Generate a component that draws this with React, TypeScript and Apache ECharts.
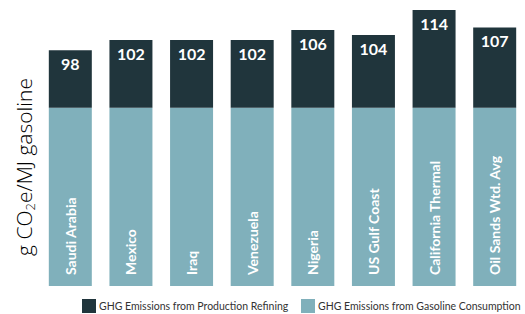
import React, { useEffect, useRef } from "react";
import * as echarts from "echarts";

const categories = [
  "Saudi Arabia",
  "Mexico",
  "Iraq",
  "Venezuela",
  "Nigeria",
  "US Gulf Coast",
  "California Thermal",
  "Oil Sands Wtd. Avg",
];
const totals = [98, 102, 102, 102, 106, 104, 114, 107];
const consumption = [75, 75, 75, 75, 75, 75, 75, 75];
const production = [23, 27, 27, 27, 31, 29, 39, 32];

const seriesNames = [
  "GHG Emissions from Production Refining",
  "GHG Emissions from Gasoline Consumption",
];

const DARK = "#20353c";
const LIGHT = "#80b0bb";
const FONT = "Lato, 'Open Sans', sans-serif";

const legendBase = {
  top: 299,
  padding: 0,
  itemWidth: 14,
  itemHeight: 14,
  icon: "rect",
  textStyle: { fontSize: 10.5, color: "#333", fontFamily: FONT, padding: [0, 0, 0, -2] },
};

export default function App() {
  const ref = useRef<HTMLDivElement>(null);
  useEffect(() => {
    if (!ref.current) return;
    const chart = echarts.init(ref.current, null, { renderer: "svg" });
    chart.setOption({
      animation: false,
      grid: { left: 40, top: 10, width: 488, height: 276 },
      xAxis: {
        type: "category",
        data: categories,
        axisLine: { show: false },
        axisTick: { show: false },
        axisLabel: { show: false },
      },
      yAxis: {
        type: "value",
        min: 4,
        max: 114,
        show: false,
        splitLine: { show: false },
      },
      legend: [
        { ...legendBase, data: [seriesNames[0]], left: 82 },
        { ...legendBase, data: [seriesNames[1]], left: 301 },
      ],
      graphic: [
        {
          type: "text",
          x: 24,
          y: 167,
          rotation: Math.PI / 2,
          style: {
            text: "{a|g CO}{s|2}{a|e/MJ gasoline}",
            align: "center",
            verticalAlign: "middle",
            rich: {
              a: { fontSize: 21, fontFamily: "'Open Sans', sans-serif", fontWeight: 300, color: "#555", lineHeight: 26 },
              s: { fontSize: 13, fontFamily: "'Open Sans', sans-serif", fontWeight: 300, color: "#555", padding: [12, 0, 0, 0], lineHeight: 26 },
            },
          },
        },
      ],
      series: [
        {
          name: seriesNames[1],
          type: "bar",
          stack: "total",
          barWidth: 43,
          data: consumption,
          itemStyle: { color: LIGHT },
          label: {
            show: true,
            position: "insideBottom",
            rotate: 90,
            align: "left",
            verticalAlign: "middle",
            distance: 11,
            formatter: "{b}",
            color: "#fff",
            fontSize: 14,
            fontWeight: "bold",
            fontFamily: FONT,
          },
        },
        {
          name: seriesNames[0],
          type: "bar",
          stack: "total",
          barWidth: 43,
          data: production,
          itemStyle: { color: DARK },
          label: {
            show: true,
            position: "insideTop",
            distance: 5,
            formatter: (p: any) => String(totals[p.dataIndex]),
            color: "#fff",
            fontSize: 16,
            fontWeight: "bold",
            fontFamily: FONT,
          },
        },
      ],
    });
    return () => chart.dispose();
  }, []);
  return (
    <div
      ref={ref}
      style={{ position: "absolute", left: 0, top: 0, width: 525, height: 314 }}
    />
  );
}
